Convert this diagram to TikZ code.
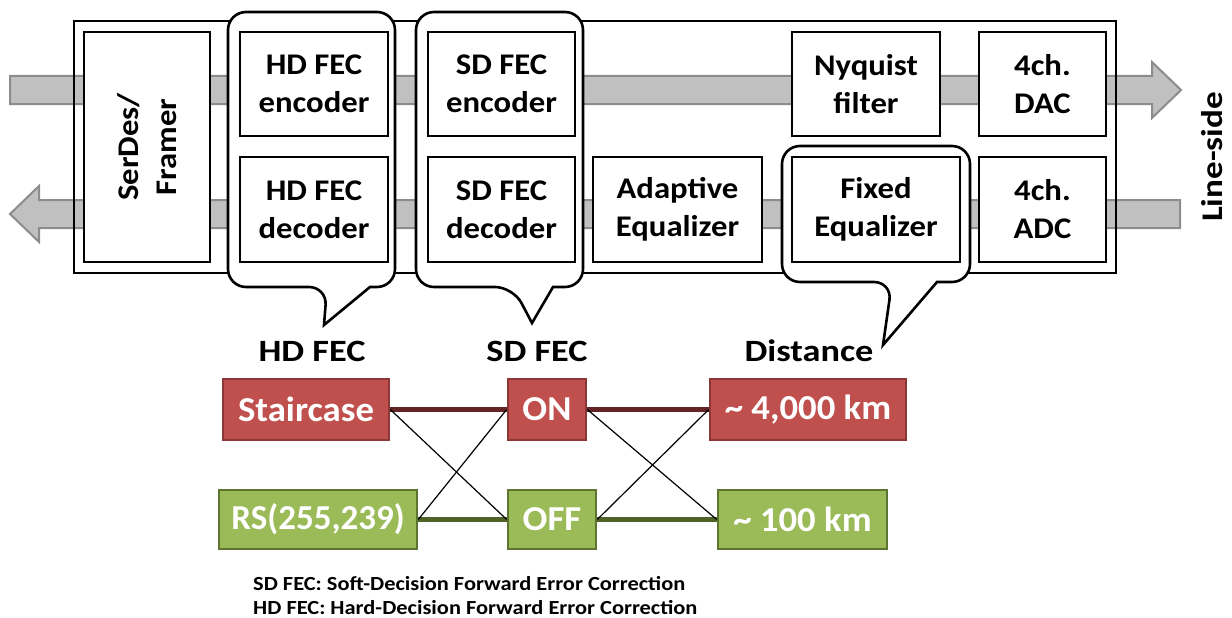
\documentclass[tikz,border=0pt]{standalone}
\usepackage{fontspec}
\setmainfont{Carlito}
\newfontfamily\wideA{Carlito}[FakeStretch=1.09]
\newfontfamily\wideB{Carlito}[FakeStretch=1.17]
\newfontfamily\wideC{Carlito}[FakeStretch=1.05]
\newfontfamily\wideD{Carlito}[FakeStretch=1.12]
\definecolor{arrfill}{HTML}{C0C0C0}
\definecolor{arrline}{HTML}{8C8C8C}
\definecolor{redfill}{HTML}{C0504D}
\definecolor{redline}{HTML}{8C3836}
\definecolor{redconn}{HTML}{632523}
\definecolor{grnfill}{HTML}{9BBB59}
\definecolor{grnline}{HTML}{5E7531}
\definecolor{grnconn}{HTML}{4F6228}
\newcommand{\bxfont}{\wideA\fontsize{30}{38}\selectfont\bfseries}
\newcommand{\clrfont}{\wideC\fontsize{35}{40}\selectfont\bfseries}
\newcommand{\rsfont}{\fontsize{35}{40}\selectfont\bfseries}
\newcommand{\lblfont}{\wideB\fontsize{31}{36}\selectfont\bfseries}
\newcommand{\sidefont}{\wideB\fontsize{30}{36}\selectfont\bfseries}
\newcommand{\ftfont}{\wideD\fontsize{20}{23}\selectfont\bfseries}
\begin{document}
\begin{tikzpicture}[x=1pt,y=-1pt,
  blk/.style={draw=black, line width=2.6pt, fill=white, inner sep=0pt, align=center, font=\bxfont},
  callout/.style={draw=black, line width=2.6pt, fill=white, rounded corners=18pt},
  flow/.style={fill=arrfill, draw=arrline, line width=2pt},
  cbox/.style={line width=2.6pt, inner sep=0pt, text=white, font=\clrfont},
  redbox/.style={cbox, fill=redfill, draw=redline},
  grnbox/.style={cbox, fill=grnfill, draw=grnline},
  redlink/.style={draw=redconn, line width=4.5pt},
  grnlink/.style={draw=grnconn, line width=4.5pt},
  cross/.style={draw=black, line width=1.2pt},
  lbl/.style={font=\lblfont, inner sep=0pt},
  foot/.style={font=\ftfont, inner sep=0pt}]
\useasboundingbox (0,0) rectangle (1232,618);
% flow arrows
\draw[flow] (10,76) -- (1152,76) -- (1152,62) -- (1181,90) -- (1152,118) -- (1152,104) -- (10,104) -- cycle;
\draw[flow] (1180,200) -- (39,200) -- (39,186) -- (10,214) -- (39,242) -- (39,228) -- (1180,228) -- cycle;
% outer frame
\draw[line width=2.6pt] (74,21) rectangle (1116,273);
% callouts
\draw[callout] (370,287) -- (395,287) -- (395,12) -- (228,12) -- (228,287) -- (327,287) [sharp corners] -- (324,325) -- cycle;
\draw[callout] (553,287) -- (583,287) -- (583,12) -- (416,12) -- (416,287) -- (513,287) [sharp corners] -- (532,323) -- cycle;
\draw[callout] (937,282) -- (970,282) -- (970,146) -- (782,146) -- (782,282) -- (892,282) [sharp corners] -- (883,345) -- cycle;
% blocks
\node[blk, rotate=90, minimum width=230pt, minimum height=126pt] (serdes) at (147,147) {SerDes/\\Framer};
\node[blk, minimum width=148pt, minimum height=104pt] (hdenc) at (314,84) {HD FEC\\encoder};
\node[blk, minimum width=148pt, minimum height=105pt] (hddec) at (314,209.5) {HD FEC\\decoder};
\node[blk, minimum width=147pt, minimum height=104pt] (sdenc) at (501.5,84) {SD FEC\\encoder};
\node[blk, minimum width=147pt, minimum height=105pt] (sddec) at (501.5,209.5) {SD FEC\\decoder};
\node[blk, minimum width=169pt, minimum height=105pt] (adapt) at (677.5,209.5) {Adaptive\\Equalizer};
\node[blk, minimum width=148pt, minimum height=104pt] (nyq) at (866,84) {Nyquist\\filter};
\node[blk, minimum width=168pt, minimum height=105pt] (fixeq) at (876,209.5) {Fixed\\Equalizer};
\node[blk, minimum width=127pt, minimum height=104pt] (dac) at (1042.5,84) {4ch.\\DAC};
\node[blk, minimum width=127pt, minimum height=105pt] (adc) at (1042.5,209.5) {4ch.\\ADC};
\node[font=\sidefont, rotate=90, inner sep=0pt] (line) at (1212,157) {Line-side};
% labels
\node[lbl, anchor=base] (hdlbl) at (312,361) {HD FEC};
\node[lbl, anchor=base] (sdlbl) at (537,361) {SD FEC};
\node[lbl, anchor=base] (dist) at (809,361) {Distance};
% option boxes
\node[redbox, minimum width=166pt, minimum height=61pt] (stair) at (306,409.5) {Staircase};
\node[redbox, minimum width=78pt, minimum height=61pt] (on) at (547,409.5) {ON};
\node[redbox, minimum width=196pt, minimum height=61pt] (far) at (808,409.5) {\textasciitilde{} 4,000 km};
\node[grnbox, font=\rsfont, minimum width=198pt, minimum height=59pt] (rs) at (318,519.5) {RS(255,239)};
\node[grnbox, minimum width=88pt, minimum height=59pt] (off) at (552,519.5) {OFF};
\node[grnbox, minimum width=169pt, minimum height=59pt] (near) at (802.5,519.5) {\textasciitilde{} 100 km};
% links
\draw[redlink] (stair.east) -- (on.west);
\draw[redlink] (on.east) -- (far.west);
\draw[grnlink] (rs.east) -- (off.west);
\draw[grnlink] (off.east) -- (near.west);
\draw[cross] (stair.east) -- (off.west);
\draw[cross] (rs.east) -- (on.west);
\draw[cross] (on.east) -- (near.west);
\draw[cross] (off.east) -- (far.west);
% footnotes
\node[foot, anchor=base west] (fn1) at (253,590) {SD FEC: Soft-Decision Forward Error Correction};
\node[foot, anchor=base west] (fn2) at (253,614) {HD FEC: Hard-Decision Forward Error Correction};
\end{tikzpicture}
\end{document}
